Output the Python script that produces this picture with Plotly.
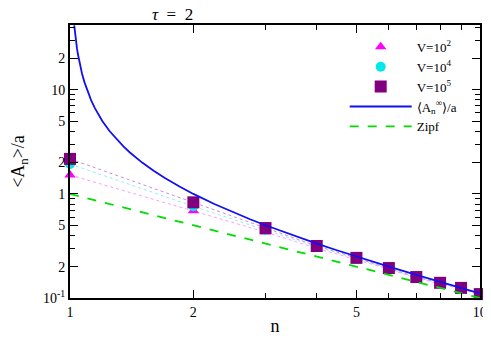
"""
Mean abundance <A_n>/a vs rank n, log-log, tau = 2
"""
import plotly.graph_objects as go

# ranks
n_vals = [1, 2, 3, 4, 5, 6, 7, 8, 9, 10]

# simulated points
v1e2 = [1.52, 0.69, 0.43, 0.30, 0.235, 0.19, 0.155, 0.137, 0.122, 0.108]
v1e4 = [1.94, 0.76, 0.45, 0.31, 0.24, 0.192, 0.157, 0.139, 0.124, 0.109]
v1e5 = [2.17, 0.83, 0.47, 0.316, 0.243, 0.194, 0.159, 0.14, 0.125, 0.109]

# asymptotic curve <A_n^inf>/a
curve_n = [1.024, 1.027, 1.03, 1.035, 1.04, 1.045, 1.05, 1.06, 1.07, 1.085, 1.1,
           1.125, 1.15, 1.175, 1.2, 1.25, 1.3, 1.35, 1.4, 1.5, 1.6, 1.7, 1.85,
           2, 2.25, 2.5, 2.75, 3, 3.5, 4, 4.5, 5, 6, 7, 8, 9, 10]
curve_a = [41.7, 37.0, 33.3, 28.6, 25.0, 22.2, 20.0, 16.7, 14.3, 11.8, 10.0,
           8.0, 6.67, 5.71, 5.0, 4.0, 3.33, 2.86, 2.5, 2.0, 1.67, 1.43, 1.18,
           1.0, 0.8, 0.667, 0.571, 0.5, 0.4, 0.333, 0.286, 0.25, 0.2, 0.167,
           0.143, 0.125, 0.111]

# Zipf law
zipf_n = [1, 10]
zipf_a = [1.0, 0.1]

# axis ticks
y_ticks = [0.1, 0.2, 0.5, 1, 2, 5, 10, 20]
y_text = ["10<sup>-1</sup>", "2", "5", "1", "2", "5", "10", "2"]
y_minor = [0.3, 0.4, 0.6, 0.7, 0.8, 0.9, 3, 4, 6, 7, 8, 9, 30, 40]
x_ticks = [1, 2, 5, 10]
x_minor = [3, 4, 6, 7, 8, 9]

FONT = "Liberation Serif, Times New Roman, serif"

fig = go.Figure()

# dotted connecting lines
for vals, col in [(v1e2, "#ff9cff"), (v1e4, "#90f0f0"), (v1e5, "#d08ad0")]:
    fig.add_trace(go.Scatter(
        x=n_vals, y=vals, mode='lines',
        line=dict(color=col, width=1, dash='dot'),
        showlegend=False, hoverinfo='skip'
    ))

# markers are allowed to spill over the frame, as in the original
fig.add_trace(go.Scatter(
    x=n_vals, y=v1e2, mode='markers', name="V=10<sup>2</sup>", cliponaxis=False,
    marker=dict(symbol='triangle-up', color='#ff00ff', size=10)
))
fig.add_trace(go.Scatter(
    x=n_vals, y=v1e4, mode='markers', name="V=10<sup>4</sup>", cliponaxis=False,
    marker=dict(symbol='circle', color='#00e8e8', size=10)
))
fig.add_trace(go.Scatter(
    x=n_vals, y=v1e5, mode='markers', name="V=10<sup>5</sup>", cliponaxis=False,
    marker=dict(symbol='square', color='#800080', size=12)
))
fig.add_trace(go.Scatter(
    x=curve_n, y=curve_a, mode='lines', name="⟨A<sub>n</sub><sup>∞</sup>⟩/a",
    line=dict(color='#1010f0', width=1.8)
))
fig.add_trace(go.Scatter(
    x=zipf_n, y=zipf_a, mode='lines', name="Zipf",
    line=dict(color='#00dd00', width=1.8, dash='dash')
))

axis_common = dict(
    type='log', showline=True, linecolor='black', linewidth=2, mirror='ticks',
    ticks='inside', ticklen=8, tickcolor='black', showgrid=False, zeroline=False,
    automargin=False, ticklabeloverflow='allow',
    tickfont=dict(family=FONT, size=14, color='black'),
)

fig.update_xaxes(
    **axis_common, range=[0, 1.0005], tickmode='array', tickvals=x_ticks,
    ticktext=[str(v) for v in x_ticks],
    minor=dict(tickmode='array', tickvals=x_minor, ticks='inside', ticklen=5,
               tickcolor='black'),
    title=dict(text="n", font=dict(family=FONT, size=18, color='black'), standoff=6)
)
fig.update_yaxes(
    **axis_common, range=[-1, 1.623], tickmode='array', tickvals=y_ticks,
    ticktext=y_text,
    minor=dict(tickmode='array', tickvals=y_minor, ticks='inside', ticklen=5,
               tickcolor='black'),
    title=dict(text="&lt;A<sub>n</sub>&gt;/a",
               font=dict(family=FONT, size=18, color='black'), standoff=14)
)

fig.add_annotation(
    text="<i>τ</i>  =  2", xref='paper', yref='paper', x=0.195, y=1.0,
    yanchor='bottom', showarrow=False, yshift=-1,
    font=dict(family=FONT, size=17, color='black')
)

# the page body keeps an 8px margin, so the figure fills what is left
# (kept short enough that no scrollbar appears)
fig.update_layout(
    width=483, height=328,
    margin=dict(l=62, r=11, t=17, b=38),
    paper_bgcolor='white', plot_bgcolor='white',
    font=dict(family=FONT, color='black'),
    legend=dict(x=0.67, y=0.975, xanchor='left', yanchor='top',
                bgcolor='rgba(0,0,0,0)', itemwidth=62, tracegroupgap=0,
                font=dict(family=FONT, size=13, color='black')),
)

fig.write_html("out.html")
